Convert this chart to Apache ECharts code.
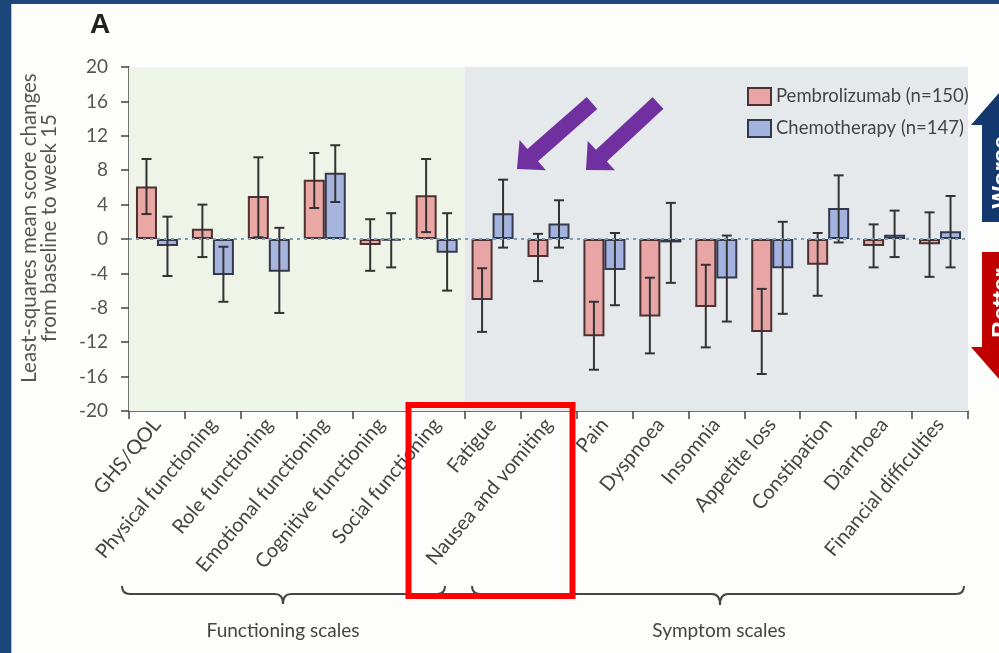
<!DOCTYPE html>
<html>
<head>
<meta charset="utf-8">
<script src="https://cdn.jsdelivr.net/npm/echarts@6/dist/echarts.min.js"></script>
<style>
  html, body { margin: 0; padding: 0; background: #fdfdfc; }
  #chart { width: 999px; height: 653px; }
</style>
</head>
<body>
<div id="chart"></div>
<script>
// EORTC QLQ-C30 scales, grouped as on the axis
const functioningScales = ['GHS/QOL', 'Physical functioning', 'Role functioning', 'Emotional functioning', 'Cognitive functioning', 'Social functioning'];
const symptomScales = ['Fatigue', 'Nausea and vomiting', 'Pain', 'Dyspnoea', 'Insomnia', 'Appetite loss', 'Constipation', 'Diarrhoea', 'Financial difficulties'];
const categories = functioningScales.concat(symptomScales);

// Least-squares mean change from baseline to week 15, with 95% CI bounds
const pembroMean = [6.1, 1.2, 5.0, 6.9, -0.7, 5.1, -7.1, -2.1, -11.3, -9.0, -7.9, -10.8, -3.0, -0.8, -0.6];
const pembroLow  = [2.9, -2.1, 0.2, 3.6, -3.7, 0.8, -10.8, -4.9, -15.2, -13.3, -12.6, -15.7, -6.6, -3.3, -4.4];
const pembroHigh = [9.3, 4.0, 9.5, 10.0, 2.3, 9.3, -3.4, 0.6, -7.3, -4.5, -3.0, -5.8, 0.7, 1.7, 3.1];

const chemoMean = [-0.8, -4.2, -3.8, 7.7, -0.2, -1.6, 3.0, 1.8, -3.6, -0.4, -4.6, -3.4, 3.6, 0.5, 0.9];
const chemoLow  = [-4.3, -7.3, -8.6, 4.3, -3.3, -6.0, -1.0, -1.0, -7.7, -5.1, -9.6, -8.7, -0.4, -2.1, -3.3];
const chemoHigh = [2.6, -0.9, 1.3, 10.9, 3.0, 3.0, 6.9, 4.5, 0.7, 4.2, 0.4, 2.0, 7.4, 3.3, 5.0];

const seriesNames = ['Pembrolizumab (n=150)', 'Chemotherapy (n=147)'];
const yMin = -20, yMax = 20, yStep = 4;
const yAxisTitle = 'Least-squares mean score changes\nfrom baseline to week 15';
const groupLabels = ['Functioning scales', 'Symptom scales'];
const panelLetter = 'A';
const directionLabels = ['Worse', 'Better'];

const FONT = "Lato, 'Liberation Sans', sans-serif";
const BAR_W = 21;

const chart = echarts.init(document.getElementById('chart'), null, { renderer: 'canvas' });

function errorBars(name, low, high, side) {
  return {
    type: 'custom',
    name: name,
    xAxisIndex: 0,
    yAxisIndex: 0,
    z: 4,
    silent: true,
    data: categories.map((c, i) => [i, low[i], high[i]]),
    renderItem: function (params, api) {
      const i = api.value(0);
      const hi = api.coord([i, api.value(2)]);
      const lo = api.coord([i, api.value(1)]);
      const x = hi[0] + side * BAR_W / 2;
      const cap = 5;
      const st = { stroke: '#333', lineWidth: 2 };
      return {
        type: 'group',
        children: [
          { type: 'line', shape: { x1: x, y1: hi[1], x2: x, y2: lo[1] }, style: st },
          { type: 'line', shape: { x1: x - cap, y1: hi[1], x2: x + cap, y2: hi[1] }, style: st },
          { type: 'line', shape: { x1: x - cap, y1: lo[1], x2: x + cap, y2: lo[1] }, style: st }
        ]
      };
    }
  };
}

// curly brace under a group of categories, built from curves and lines
function brace(x1, x2, xm, y0, y1, ym, r) {
  const st = { stroke: '#444', lineWidth: 2, fill: null };
  const curve = (ax, ay, cx, cy, bx, by) => ({ type: 'bezierCurve', shape: { x1: ax, y1: ay, cpx1: cx, cpy1: cy, x2: bx, y2: by }, style: st });
  const seg = (ax, ay, bx, by) => ({ type: 'line', shape: { x1: ax, y1: ay, x2: bx, y2: by }, style: st });
  return {
    type: 'group',
    z: 50,
    children: [
      curve(x1, y0, x1, y1, x1 + r, y1),
      seg(x1 + r, y1, xm - r, y1),
      curve(xm - r, y1, xm, y1, xm, ym),
      curve(xm, ym, xm, y1, xm + r, y1),
      seg(xm + r, y1, x2 - r, y1),
      curve(x2 - r, y1, x2, y1, x2, y0)
    ]
  };
}

// block arrow from tail to tip
function arrowPoints(tx, ty, hx, hy, shaftW, headW, headL) {
  const dx = hx - tx, dy = hy - ty;
  const len = Math.sqrt(dx * dx + dy * dy);
  const ux = dx / len, uy = dy / len;
  const nx = -uy, ny = ux;
  const bx = hx - ux * headL, by = hy - uy * headL;
  return [
    [tx + nx * shaftW / 2, ty + ny * shaftW / 2],
    [bx + nx * shaftW / 2, by + ny * shaftW / 2],
    [bx + nx * headW / 2, by + ny * headW / 2],
    [hx, hy],
    [bx - nx * headW / 2, by - ny * headW / 2],
    [bx - nx * shaftW / 2, by - ny * shaftW / 2],
    [tx - nx * shaftW / 2, ty - ny * shaftW / 2]
  ];
}

const option = {
  backgroundColor: '#fdfdfc',
  animation: false,
  textStyle: { fontFamily: FONT },
  grid: { left: 129, right: 31, top: 67, bottom: 242, outerBoundsMode: 'none' },
  legend: {
    data: seriesNames,
    orient: 'vertical',
    left: 742,
    top: 82,
    itemWidth: 23,
    itemHeight: 17,
    itemGap: 13,
    icon: 'rect',
    textStyle: { fontFamily: FONT, fontSize: 18.5, color: '#444' }
  },
  xAxis: [
    {
      type: 'category',
      data: categories,
      boundaryGap: true,
      axisLine: { onZero: false, lineStyle: { color: '#444', width: 1.5 } },
      axisTick: { show: true, inside: false, length: 8, interval: 0, lineStyle: { color: '#444', width: 1.5 } },
      axisLabel: { interval: 0, rotate: 50, margin: 10, fontFamily: FONT, fontSize: 20, color: '#444', hideOverlap: false },
      splitLine: { show: false }
    },
    { type: 'value', min: 0, max: categories.length, show: false }
  ],
  yAxis: {
    type: 'value',
    position: 'left',
    offset: 7,
    min: yMin,
    max: yMax,
    interval: yStep,
    name: yAxisTitle,
    nameLocation: 'middle',
    nameRotate: 90,
    nameGap: 63,
    nameTextStyle: { fontFamily: FONT, fontSize: 20.5, color: '#555', lineHeight: 20, align: 'center', padding: [0, 0, 0, 22] },
    axisLine: { show: true, lineStyle: { color: '#444', width: 1.5 } },
    axisTick: { show: true, inside: false, length: 8, lineStyle: { color: '#444', width: 1.5 } },
    axisLabel: { margin: 14, fontFamily: FONT, fontSize: 19, color: '#555' },
    splitLine: { show: false }
  },
  series: [
    {
      type: 'line',
      name: 'scale groups',
      xAxisIndex: 1,
      yAxisIndex: 0,
      data: [],
      z: 0,
      silent: true,
      markArea: {
        silent: true,
        data: [
          [{ xAxis: 0, itemStyle: { color: '#eef4e7' } }, { xAxis: functioningScales.length }],
          [{ xAxis: functioningScales.length, itemStyle: { color: '#e6e9ec' } }, { xAxis: categories.length }]
        ]
      }
    },
    {
      type: 'bar',
      name: seriesNames[0],
      data: pembroMean,
      barWidth: BAR_W,
      barGap: '0%',
      z: 2,
      itemStyle: { color: 'rgba(231,143,142,0.75)', borderColor: '#4d3030', borderWidth: 2 },
      markLine: {
        silent: true,
        symbol: 'none',
        label: { show: false },
        lineStyle: { color: '#7d9db0', width: 2, type: [3, 4] },
        data: [{ yAxis: 0 }]
      }
    },
    {
      type: 'bar',
      name: seriesNames[1],
      data: chemoMean,
      barWidth: BAR_W,
      barGap: '0%',
      z: 2,
      itemStyle: { color: 'rgba(142,159,219,0.75)', borderColor: '#333a4d', borderWidth: 2 }
    },
    errorBars('Pembrolizumab 95% CI', pembroLow, pembroHigh, -1),
    errorBars('Chemotherapy 95% CI', chemoLow, chemoHigh, 1)
  ],
  graphic: [
    // page frame
    { type: 'rect', shape: { x: 0, y: 0, width: 999, height: 4 }, style: { fill: '#1b477b' }, z: 50 },
    { type: 'rect', shape: { x: 0, y: 0, width: 11, height: 653 }, style: { fill: '#1b477b' }, z: 50 },
    { type: 'rect', shape: { x: 11, y: 4, width: 1, height: 649 }, style: { fill: '#a9c4dc' }, z: 50 },
    // panel letter
    { type: 'text', x: 100, y: 25, style: { text: panelLetter, font: "bold 28px 'Liberation Sans', sans-serif", fill: '#222', align: 'center', verticalAlign: 'middle' }, z: 50 },
    // group braces and labels
    brace(122, 445, 283, 586, 594, 604, 8),
    brace(472, 964, 720, 586, 594, 605, 8),
    { type: 'text', x: 283, y: 631, style: { text: groupLabels[0], font: "19px " + FONT, fill: '#444', align: 'center', verticalAlign: 'middle' }, z: 50 },
    { type: 'text', x: 719, y: 631, style: { text: groupLabels[1], font: "19px " + FONT, fill: '#444', align: 'center', verticalAlign: 'middle' }, z: 50 },
    // highlight box
    { type: 'rect', shape: { x: 408.5, y: 405, width: 164, height: 191 }, style: { stroke: '#ff0000', lineWidth: 6, fill: null }, z: 60 },
    // purple pointers
    { type: 'polygon', shape: { points: arrowPoints(592, 103, 517, 169, 16, 40, 21) }, style: { fill: '#7030a0' }, z: 60 },
    { type: 'polygon', shape: { points: arrowPoints(658, 103, 586, 170, 16, 40, 21) }, style: { fill: '#7030a0' }, z: 60 },
    // direction arrows at the right edge
    { type: 'polygon', shape: { points: [[982, 222], [982, 125], [971, 125], [1005, 86], [1039, 125], [1028, 125], [1028, 222]] }, style: { fill: '#12386e' }, z: 60 },
    { type: 'polygon', shape: { points: [[982, 252], [982, 347], [971, 347], [1005, 386], [1039, 347], [1028, 347], [1028, 252]] }, style: { fill: '#c00000' }, z: 60 },
    { type: 'text', x: 1002, y: 172, rotation: Math.PI / 2, style: { text: directionLabels[0], font: "bold 24px 'Liberation Sans', sans-serif", fill: '#ffffff', align: 'center', verticalAlign: 'middle' }, z: 61 },
    { type: 'text', x: 1002, y: 303, rotation: Math.PI / 2, style: { text: directionLabels[1], font: "bold 24px 'Liberation Sans', sans-serif", fill: '#ffffff', align: 'center', verticalAlign: 'middle' }, z: 61 }
  ]
};

chart.setOption(option);
</script>
</body>
</html>
